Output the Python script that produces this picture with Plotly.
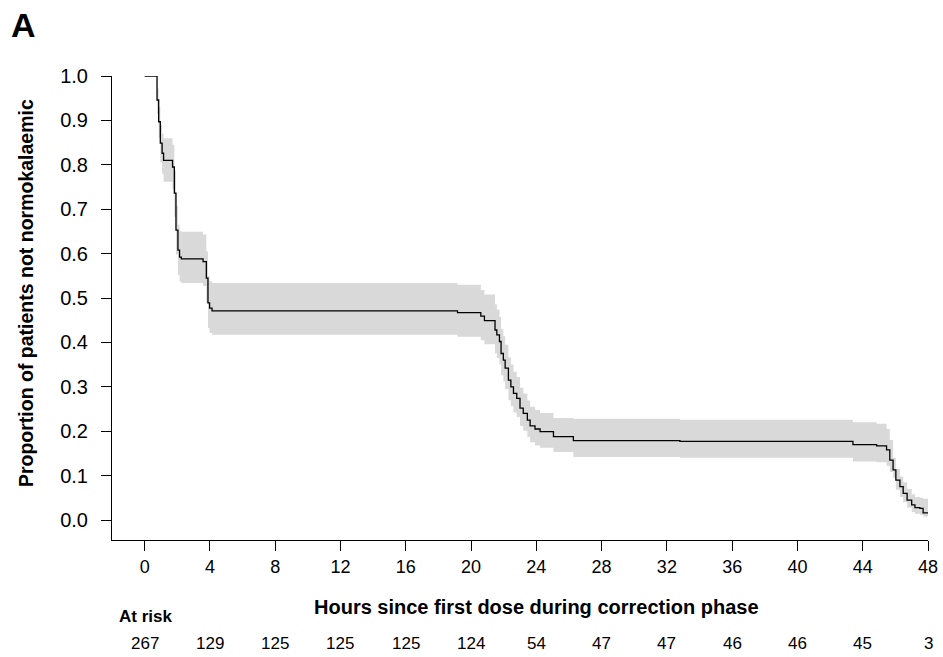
import plotly.graph_objects as go

# Kaplan-Meier step data (hours, proportion not normokalaemic) with 95% CI
time_h = [0, 0.76, 0.86, 0.96, 1.07, 1.16, 1.71, 1.82, 1.92, 2.04, 2.14, 2.25,
          3.58, 3.78, 3.88, 3.98, 4.13, 19.17, 20.60, 20.82, 21.47, 21.58,
          21.74, 21.84, 21.98, 22.09, 22.29, 22.44, 22.60, 22.80, 23.00, 23.20,
          23.45, 23.62, 23.92, 24.23, 25.05, 26.27, 32.80, 43.40, 44.85, 45.46,
          45.66, 45.86, 46.03, 46.28, 46.48, 46.72, 47.00, 47.20, 47.50, 47.70,
          48.00]
surv = [1.000, 0.946, 0.897, 0.849, 0.826, 0.810, 0.795, 0.736, 0.653, 0.608,
        0.592, 0.588, 0.582, 0.545, 0.489, 0.477, 0.471, 0.467, 0.459, 0.449,
        0.428, 0.417, 0.402, 0.375, 0.360, 0.342, 0.315, 0.300, 0.285, 0.274,
        0.252, 0.240, 0.225, 0.212, 0.205, 0.199, 0.188, 0.179, 0.177, 0.170,
        0.167, 0.158, 0.135, 0.113, 0.090, 0.075, 0.060, 0.045, 0.034, 0.028,
        0.026, 0.016, 0.016]
ci_lower = [1.000, 0.915, 0.860, 0.805, 0.780, 0.762, 0.745, 0.683, 0.598, 0.552,
            0.537, 0.534, 0.527, 0.488, 0.432, 0.421, 0.417, 0.413, 0.405, 0.396,
            0.375, 0.365, 0.351, 0.326, 0.312, 0.295, 0.270, 0.256, 0.242, 0.232,
            0.212, 0.201, 0.187, 0.175, 0.168, 0.163, 0.153, 0.142, 0.140, 0.132,
            0.130, 0.122, 0.108, 0.095, 0.068, 0.052, 0.040, 0.028, 0.018, 0.014,
            0.012, 0.008, 0.008]
ci_upper = [1.000, 0.972, 0.930, 0.890, 0.870, 0.860, 0.845, 0.787, 0.708, 0.665,
            0.651, 0.649, 0.643, 0.605, 0.549, 0.538, 0.534, 0.530, 0.518, 0.508,
            0.486, 0.474, 0.458, 0.430, 0.414, 0.395, 0.366, 0.350, 0.334, 0.322,
            0.298, 0.285, 0.269, 0.255, 0.248, 0.241, 0.230, 0.228, 0.226, 0.220,
            0.217, 0.205, 0.180, 0.140, 0.115, 0.098, 0.085, 0.070, 0.058, 0.052,
            0.050, 0.048, 0.048]

tick_hours = [0, 4, 8, 12, 16, 20, 24, 28, 32, 36, 40, 44, 48]
at_risk = [267, 129, 125, 125, 125, 124, 54, 47, 47, 46, 46, 45, 3]
y_ticks = [0.0, 0.1, 0.2, 0.3, 0.4, 0.5, 0.6, 0.7, 0.8, 0.9, 1.0]

FONT = "Liberation Sans, Arial, sans-serif"

fig = go.Figure()
fig.add_trace(go.Scatter(x=time_h, y=ci_lower, mode="lines",
                         line=dict(width=0, shape="hv", color="#d9d9d9"),
                         hoverinfo="skip", showlegend=False))
fig.add_trace(go.Scatter(x=time_h, y=ci_upper, mode="lines",
                         line=dict(width=0, shape="hv", color="#d9d9d9"),
                         fill="tonexty", fillcolor="#d9d9d9",
                         hoverinfo="skip", showlegend=False))
fig.add_trace(go.Scatter(x=time_h, y=surv, mode="lines",
                         line=dict(color="black", width=1.3, shape="hv"),
                         showlegend=False))

fig.update_layout(
    width=943, height=657, autosize=False,
    margin=dict(l=112, r=15, t=76, b=117, pad=0),
    paper_bgcolor="white", plot_bgcolor="white",
    font=dict(family=FONT, color="black"),
    showlegend=False,
)
fig.update_xaxes(range=[-2, 48], tickmode="array", tickvals=tick_hours,
                 ticktext=[str(v) for v in tick_hours], automargin=False,
                 showline=True, linecolor="black", linewidth=1,
                 ticks="outside", ticklen=10, tickcolor="black", tickwidth=1,
                 showgrid=False, zeroline=False,
                 tickfont=dict(size=18, family=FONT, color="black"))
fig.update_yaxes(range=[-0.045, 1.0], tickmode="array", tickvals=y_ticks,
                 ticktext=[f"{v:.1f}" for v in y_ticks], automargin=False,
                 showline=True, linecolor="black", linewidth=1,
                 ticks="outside", ticklen=10, tickcolor="black", tickwidth=1,
                 showgrid=False, zeroline=False, ticklabelstandoff=9,
                 tickfont=dict(size=20, family=FONT, color="black"))

# Axis titles
fig.add_annotation(text="<b>Hours since first dose during correction phase</b>",
                   xref="x", yref="paper", x=24, y=-0.144, showarrow=False,
                   xanchor="center", yanchor="middle",
                   font=dict(size=20, family=FONT, color="black"))
fig.add_annotation(text="<b>Proportion of patients not normokalaemic</b>",
                   xref="paper", yref="y", x=-0.106, y=0.51, showarrow=False,
                   textangle=-90, xanchor="center", yanchor="middle",
                   font=dict(size=19.5, family=FONT, color="black"))
# Panel label
fig.add_annotation(text="<b>A</b>", xref="paper", yref="paper",
                   x=-0.126, y=1.11, showarrow=False,
                   xanchor="left", yanchor="middle",
                   font=dict(size=34, family=FONT, color="black"))
# At-risk table
fig.add_annotation(text="<b>At risk</b>", xref="paper", yref="paper",
                   x=0.0065, y=-0.164, showarrow=False,
                   xanchor="left", yanchor="middle",
                   font=dict(size=17, family=FONT, color="black"))
for h, n in zip(tick_hours, at_risk):
    fig.add_annotation(text=str(n), xref="x", yref="paper", x=h, y=-0.222,
                       showarrow=False, xanchor="center", yanchor="middle",
                       font=dict(size=17, family=FONT, color="black"))

fig.write_html("out.html",
               config={"responsive": False, "displayModeBar": False},
               post_script="document.body.style.margin='0';"
                           "document.body.style.overflow='hidden';")
